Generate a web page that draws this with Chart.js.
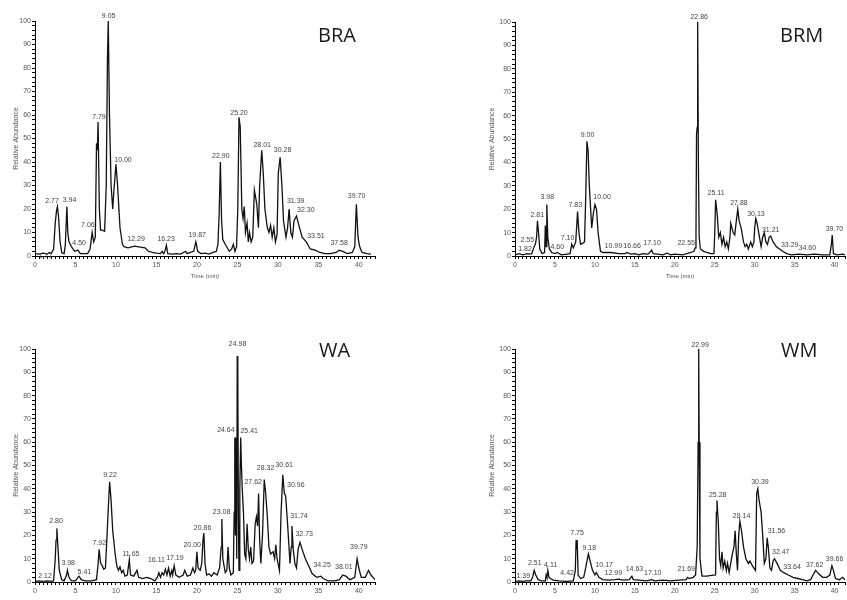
<!DOCTYPE html>
<html>
<head>
<meta charset="utf-8">
<script src="https://cdn.jsdelivr.net/npm/chart.js@4.4.0/dist/chart.umd.min.js"></script>
<style>
  html, body { margin: 0; padding: 0; background: #fff; overflow: hidden; width: 847px; height: 600px; }
  canvas { position: absolute; }
</style>
</head>
<body>
<canvas id="bra" width="420" height="290" style="left:0;top:0"></canvas>
<canvas id="brm" width="407" height="290" style="left:440px;top:0"></canvas>
<canvas id="wa" width="420" height="296" style="left:0;top:320px"></canvas>
<canvas id="wm" width="407" height="296" style="left:440px;top:320px"></canvas>
<script>
// chromatogram traces: [time (min), relative abundance]
var braTrace = [[0,1],[0.5,0.8],[1,1.2],[1.5,0.8],[1.77,1.5],[2,1],[2.3,3],[2.5,14],[2.65,19],[2.77,21],[2.9,17],[3.1,6],[3.3,1.5],[3.6,1],[3.75,5],[3.94,21],[4.05,10],[4.2,6],[4.5,4],[4.9,2],[5.3,2.5],[5.6,1],[6,1],[6.5,1],[6.8,3],[7.06,10],[7.25,6],[7.45,8],[7.6,48],[7.7,45],[7.79,57],[7.95,20],[8.1,11],[8.3,11],[8.6,10.5],[8.8,30],[8.95,84],[9.05,100],[9.2,60],[9.4,30],[9.6,20],[9.75,28],[10,39],[10.2,30],[10.5,12],[10.8,5],[11,4],[11.5,3.5],[12.29,4.2],[13,3.8],[13.6,3.5],[14,2],[14.5,1.5],[15,1.2],[15.5,1],[15.7,2],[15.9,1],[16.1,2.5],[16.23,4.5],[16.4,1],[17,0.8],[17.5,1],[18,0.8],[18.6,2],[18.8,1],[19.2,1.5],[19.6,2],[19.87,6],[20.1,2],[20.5,1],[21,1.2],[21.5,0.8],[22,1.5],[22.4,2],[22.6,5],[22.75,18],[22.9,40],[23.05,15],[23.2,7],[23.5,5],[24,2],[24.3,3],[24.5,5],[24.7,2],[24.9,4],[25.05,20],[25.2,59],[25.35,55],[25.55,20],[25.7,16],[25.85,21],[26,10],[26.2,14],[26.35,6],[26.5,10],[26.7,6],[26.9,8],[27.1,28],[27.25,25],[27.4,22],[27.6,12],[27.75,30],[28.01,45],[28.2,35],[28.4,20],[28.7,12],[28.9,10],[29.1,13],[29.3,8],[29.5,12],[29.7,6],[29.9,9],[30.05,35],[30.28,42],[30.5,30],[30.7,15],[31,8],[31.2,12],[31.39,20],[31.6,10],[31.8,8],[32,15],[32.3,17],[32.6,13],[33,8],[33.51,6],[34,3],[34.6,2.5],[35.2,1.5],[35.8,1],[36.5,1],[37.2,1.5],[37.58,2.5],[38,2],[38.6,1],[39.2,1.5],[39.5,4],[39.7,22],[39.9,8],[40.1,4],[40.4,1.5],[41,1],[41.5,0.8]];

var brmTrace = [[0,0.5],[0.5,1],[1,0.5],[1.5,1],[1.82,0.8],[2.1,1],[2.4,4],[2.55,5],[2.7,8],[2.81,15],[2.95,10],[3.1,3],[3.4,1],[3.7,1.5],[3.8,13],[3.9,4],[3.98,22],[4.1,8],[4.3,3],[4.6,1.5],[5,1],[5.3,1.5],[5.8,0.5],[6.5,0.8],[6.9,1],[7.1,5],[7.3,3.5],[7.6,6],[7.83,19],[8,10],[8.2,5],[8.5,5.5],[8.7,6],[8.85,25],[9,49],[9.15,45],[9.3,30],[9.5,18],[9.6,12],[9.8,18],[10,22],[10.2,20],[10.4,10],[10.7,2],[11,1.5],[11.5,1.5],[12,1.5],[13,1],[13.8,1],[14,1.5],[14.5,0.8],[15,1],[15.5,0.5],[16,1],[16.66,0.8],[17,2],[17.1,2.5],[17.3,1],[17.8,0.8],[18.5,0.5],[19,1.2],[19.5,0.5],[20,0.8],[21,0.5],[21.5,1],[22,1.5],[22.4,2],[22.55,3.5],[22.65,10],[22.72,52],[22.8,55],[22.86,100],[22.95,40],[23.05,8],[23.2,3],[23.6,2],[24,1.5],[24.5,1],[24.9,1],[25,10],[25.11,24],[25.3,18],[25.5,8],[25.7,10],[25.9,5],[26.1,8],[26.3,4],[26.5,6],[26.7,3],[26.9,8],[27,14],[27.15,12],[27.3,10],[27.5,9],[27.7,15],[27.88,20],[28.05,15],[28.3,12],[28.6,6],[28.8,4],[29,5],[29.2,3],[29.5,6],[29.7,4],[29.9,6],[30,12],[30.13,16],[30.3,14],[30.5,10],[30.8,4],[31,8],[31.2,10],[31.4,6],[31.6,5],[31.8,8],[32,8.5],[32.3,6],[32.7,4],[33.1,3],[33.5,2],[34,1],[34.6,0.5],[35.5,0.8],[36.5,0.5],[37.5,0.8],[38.5,0.5],[39.4,0.5],[39.6,5],[39.7,9],[39.85,1],[40.3,0.5],[41,0.8],[41.3,0.5]];

var waTrace = [[0,0.3],[0.5,0.5],[1,0.3],[1.5,0.5],[2.12,0.3],[2.3,0.5],[2.5,10],[2.6,18],[2.7,23],[2.85,14],[3,5],[3.3,1],[3.6,0.5],[3.9,3],[4,5],[4.2,2],[4.5,0.5],[5,0.5],[5.3,2],[5.45,2.5],[5.7,1],[6.2,0.5],[7,0.5],[7.6,1],[7.8,8],[7.92,14],[8.1,8],[8.3,7],[8.5,5.5],[8.7,6],[8.9,20],[9.1,35],[9.22,43],[9.4,35],[9.6,22],[9.9,12],[10.1,7],[10.3,5],[10.5,6.5],[10.7,4],[10.9,5],[11.1,2.5],[11.4,3],[11.65,9.5],[11.8,3],[12.2,2.5],[12.6,5],[12.8,2],[13.3,1.5],[13.8,2],[14.3,1.5],[14.8,0.5],[15.1,2],[15.3,4],[15.5,2],[15.7,4],[15.9,3],[16.11,5.5],[16.3,3],[16.5,6],[16.7,2.5],[16.9,5],[17,3],[17.19,7],[17.4,3],[17.8,2],[18.3,3],[18.5,5],[18.8,2.5],[19.2,3],[19.5,6],[19.7,4],[19.85,5],[20,13],[20.15,6],[20.4,5],[20.6,8],[20.75,18],[20.86,21],[21,8],[21.2,3],[21.5,3.5],[21.8,2.5],[22.1,4],[22.5,3],[22.8,6],[23,15],[23.08,27],[23.2,10],[23.5,4],[23.7,5],[23.85,15],[24,6],[24.2,3],[24.5,4],[24.6,30],[24.68,62],[24.75,20],[24.85,62],[24.92,10],[24.98,97],[25.05,92],[25.12,30],[25.2,5],[25.3,40],[25.41,62],[25.5,50],[25.6,40],[25.75,30],[25.9,12],[26.05,10],[26.2,25],[26.35,14],[26.5,10],[26.65,15],[26.8,8],[27,9],[27.2,25],[27.35,28],[27.5,24],[27.62,38],[27.75,18],[27.9,8],[28.1,20],[28.32,44],[28.5,38],[28.7,28],[28.9,15],[29.1,12],[29.4,13],[29.6,10],[29.75,16],[29.9,10],[30.2,5],[30.4,30],[30.61,46],[30.8,38],[30.96,37],[31.2,25],[31.5,8],[31.65,15],[31.74,24],[31.9,14],[32.1,8],[32.3,6],[32.5,14],[32.73,17],[33,14],[33.4,10],[33.8,7],[34.25,3.5],[34.8,2],[35.3,2.5],[35.6,1.5],[36.2,0.5],[37,0.5],[37.6,1],[38.01,3],[38.4,2.5],[38.9,1],[39.5,2],[39.79,10],[40,6],[40.3,2],[40.8,2],[41.2,5],[41.5,3],[42,1]];

var wmTrace = [[0,0.3],[0.5,0.5],[1,0.3],[1.39,0.5],[2,0.5],[2.2,2],[2.4,5],[2.6,3],[2.9,1],[3.3,0.5],[3.8,0.5],[3.9,3],[4,2],[4.11,5],[4.25,2],[4.42,1.5],[4.8,0.8],[5.5,0.5],[6.5,0.3],[7.3,0.5],[7.55,5],[7.65,18],[7.72,14],[7.78,18],[7.9,3],[8.2,1.5],[8.6,2],[8.9,7],[9.18,12],[9.4,9],[9.7,5],[10,3],[10.17,4],[10.5,2],[11,1],[11.8,0.8],[12.5,1],[12.99,1.2],[13.5,0.8],[14.3,1],[14.5,2],[14.63,2.5],[14.8,1],[15.5,0.8],[16.5,0.5],[17.1,1],[17.5,0.5],[18.5,0.8],[19.5,0.5],[20.5,0.8],[21.4,1],[21.6,2],[21.8,1.5],[22.3,2],[22.6,3],[22.8,15],[22.92,60],[22.99,100],[23.05,60],[23.15,10],[23.4,2.5],[24,2.5],[24.6,2.8],[25.1,3],[25.2,30],[25.28,35],[25.45,25],[25.6,10],[25.75,7],[25.9,13],[26.05,6],[26.25,9],[26.45,5],[26.6,8],[26.8,4],[27,8],[27.2,12],[27.4,15],[27.55,22],[27.7,12],[27.85,5],[28,20],[28.14,26],[28.35,22],[28.6,15],[28.9,10],[29.2,8],[29.4,9],[29.7,7],[29.9,6],[30.1,5],[30.25,38],[30.39,40],[30.55,35],[30.8,30],[31,20],[31.2,8],[31.4,10],[31.56,19],[31.7,15],[31.9,6],[32.1,5],[32.3,9],[32.47,10],[32.8,8],[33.2,5],[33.64,4],[34.2,3],[34.8,2],[35.4,1.5],[36,1],[36.5,0.5],[37,1],[37.3,3],[37.62,5],[38,3.5],[38.5,2],[39,2],[39.4,3],[39.66,7],[39.85,5],[40.1,1.5],[40.6,1],[41,2],[41.3,1]];

// peak labels: [text, time where drawn, abundance where drawn]
var braPeaks = [["1.77",1.3,0],["2.77",2.1,23.4],["3.94",4.26,23.6],["4.50",5.45,5.3],["7.06",6.53,13],["7.79",7.9,59],["9.05",9.1,102.3],["10.00",10.87,40.9],["12.29",12.48,7],["16.23",16.2,7],["19.87",20.04,9.1],["22.90",22.96,42.6],["25.20",25.2,61],["28.01",28.07,47.2],["30.28",30.58,44.9],["31.39",32.2,23.5],["32.30",33.45,19.7],["33.51",34.7,8.3],["37.58",37.57,5.4],["39.70",39.72,25.4]];
var brmPeaks = [["1.82",1.25,2.8],["2.55",1.54,6.8],["2.81",2.79,17.5],["3.98",4.04,25],["4.60",5.29,4],["7.10",6.58,7.5],["7.83",7.54,21.8],["9.00",9.08,51.7],["10.00",10.9,25],["10.99",12.3,4.3],["16.66",14.66,4.3],["17.10",17.15,5.4],["22.55",21.43,5.7],["22.86",23.05,102.3],["25.11",25.17,27],["27.88",28.03,22.5],["30.13",30.15,18],["31.21",32.0,11.1],["33.29",34.38,4.7],["34.60",36.58,3.3],["39.70",39.98,11.4]];
var waPeaks = [["2.12",1.23,2.7],["2.80",2.6,26],["3.98",4.1,8],["5.41",6.1,4.4],["7.92",7.94,16.6],["9.22",9.26,45.7],["11.65",11.85,11.9],["16.11",15.0,9.5],["17.19",17.28,10.2],["20.00",19.42,15.9],["20.86",20.7,23.2],["23.08",23.05,30],["24.64",23.58,65.3],["24.98",25.02,102],["25.41",26.46,64.6],["27.62",26.95,43],["28.32",28.48,49],["30.61",30.78,50.3],["30.96",32.22,41.7],["31.74",32.6,28.4],["32.73",33.25,20.5],["34.25",35.47,7.2],["38.01",38.15,6.6],["39.79",40.0,15.2]];
var wmPeaks = [["1.39",1.03,2.6],["2.51",2.48,8],["4.11",4.46,7.3],["4.42",6.53,4],["7.75",7.77,20.9],["9.18",9.3,14.5],["10.17",11.16,7.2],["12.99",12.3,3.7],["14.63",14.95,5.4],["17.10",17.24,3.7],["21.69",21.43,5.4],["22.99",23.17,101.9],["25.28",25.37,37.2],["28.14",28.36,28.5],["30.39",30.65,43],["31.56",32.72,21.9],["32.47",33.26,13],["33.64",34.67,6.6],["37.62",37.5,7.2],["39.66",39.99,9.7]];

var sampleNames = ["BRA", "BRM", "WA", "WM"];

var peakLabelPlugin = {
  id: "peakLabels",
  afterDatasetsDraw: function (chart, args, opts) {
    var ctx = chart.ctx, xs = chart.scales.x, ys = chart.scales.y;
    ctx.save();
    ctx.font = "7px 'Liberation Sans', Arial, sans-serif";
    ctx.fillStyle = "#444";
    ctx.textAlign = "center";
    ctx.textBaseline = "middle";
    opts.peaks.forEach(function (p) {
      ctx.fillText(p[0], xs.getPixelForValue(p[1]), ys.getPixelForValue(p[2]));
    });
    // sample name
    ctx.font = "20px 'Open Sans', sans-serif";
    ctx.fillStyle = "#1a1a1a";
    ctx.textAlign = "left";
    ctx.textBaseline = "alphabetic";
    ctx.fillText(opts.name, opts.nameX, opts.nameY);
    ctx.restore();
  },
};

function makePanel(id, trace, peaks, name, o) {
  new Chart(document.getElementById(id), {
    type: "line",
    data: {
      datasets: [
        {
          data: trace.map(function (p) { return { x: p[0], y: p[1] }; }),
          borderColor: "#111",
          borderWidth: 1.3,
          pointRadius: 0,
          tension: 0,
          fill: false,
        },
      ],
    },
    options: {
      responsive: false,
      animation: false,
      devicePixelRatio: 1,
      layout: { padding: { top: o.top, right: o.right, left: 0, bottom: 0 } },
      plugins: {
        legend: { display: false },
        tooltip: { enabled: false },
        peakLabels: { peaks: peaks, name: name, nameX: o.nameX, nameY: o.nameY },
      },
      scales: {
        x: {
          type: "linear",
          min: 0,
          max: o.xmax,
          afterFit: function (s) { s.height = 34; },
          border: { display: true, color: "#000", width: 1 },
          grid: { drawOnChartArea: false, drawTicks: true, tickLength: 3, color: "#000" },
          ticks: {
            stepSize: 0.5,
            autoSkip: false,
            maxRotation: 0,
            padding: 2,
            color: "#555",
            font: { size: 7, family: "'Liberation Sans', Arial" },
            callback: function (v) { return v % 5 === 0 ? String(v) : ""; },
          },
          title: {
            display: true,
            text: "Time (min)",
            color: "#555",
            font: { size: 6, family: "'Liberation Sans', Arial" },
            padding: { top: 0, bottom: 10 },
          },
        },
        y: {
          min: 0,
          max: 100,
          afterFit: function (s) { s.width = o.yw; },
          border: { display: true, color: "#000", width: 1 },
          grid: { drawOnChartArea: false, drawTicks: true, tickLength: 3, color: "#000" },
          ticks: {
            stepSize: 2,
            autoSkip: false,
            padding: 1,
            color: "#555",
            font: { size: 7, family: "'Liberation Sans', Arial" },
            callback: function (v) { return v % 10 === 0 ? String(v) : ""; },
          },
          title: {
            display: true,
            text: "Relative Abundance",
            color: "#555",
            font: { size: 7, family: "'Liberation Sans', Arial" },
            padding: { top: o.ytp, bottom: 0 },
          },
        },
      },
    },
    plugins: [peakLabelPlugin],
  });
}

makePanel("bra", braTrace, braPeaks, sampleNames[0], { top: 21, right: 45, xmax: 42, yw: 35, ytp: 12, nameX: 318, nameY: 42 });
makePanel("brm", brmTrace, brmPeaks, sampleNames[1], { top: 22, right: 0, xmax: 41.3, yw: 75, ytp: 48, nameX: 340, nameY: 42 });
makePanel("wa", waTrace, waPeaks, sampleNames[2], { top: 29, right: 45, xmax: 42, yw: 35, ytp: 12, nameX: 319, nameY: 37 });
makePanel("wm", wmTrace, wmPeaks, sampleNames[3], { top: 29, right: 0, xmax: 41.3, yw: 75, ytp: 48, nameX: 341, nameY: 37 });
</script>
</body>
</html>
